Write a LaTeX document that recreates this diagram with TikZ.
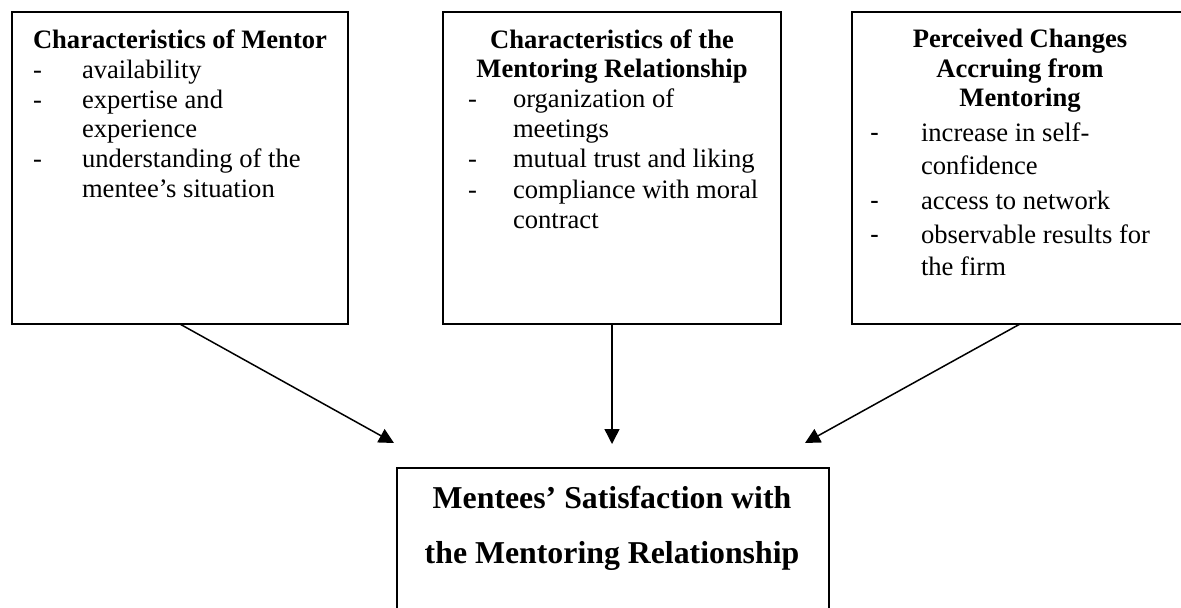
\documentclass[tikz,border=0pt]{standalone}
\usepackage{fontspec}
\setmainfont{Liberation Serif}
\newfontfamily\dashfont{Liberation Sans}
\usetikzlibrary{arrows.meta}
\tikzset{
  box/.style={draw, line width=0.85pt, inner sep=0pt, outer sep=0pt, anchor=north west},
  txt/.style={inner sep=0pt, outer sep=0pt, anchor=base west, font=\fontsize{13.3}{15}\selectfont},
  ttl/.style={inner sep=0pt, outer sep=0pt, anchor=base, font=\fontsize{13.3}{15}\selectfont\bfseries},
  ttlL/.style={inner sep=0pt, outer sep=0pt, anchor=base west, font=\fontsize{13.3}{15}\selectfont\bfseries},
  big/.style={inner sep=0pt, outer sep=0pt, anchor=base, font=\fontsize{15.9}{18}\selectfont\bfseries},
  arr/.style={line width=0.75pt, -{Triangle[length=7.5pt,width=7.5pt]}}
}
\begin{document}
\begin{tikzpicture}[x=0.5pt,y=-0.5pt]
\useasboundingbox (0,0) rectangle (1181,608);
\clip (0,0) rectangle (1181,608);
% boxes
\node[box, minimum width=168.15pt, minimum height=156.15pt] (L) at (11.7,11.7) {};
\node[box, minimum width=169pt, minimum height=156.15pt] (M) at (443,11.7) {};
\node[box, minimum width=168pt, minimum height=156.15pt] (R) at (852,11.7) {};
\node[box, minimum width=216.15pt, minimum height=90pt] (B) at (396.7,468) {};
% left box text
\node[ttlL] (l0) at (33,48.5) {Characteristics of Mentor};
\node[txt] (ld1) at (33,79) {-};
\node[txt] (l1) at (82,79) {availability};
\node[txt] (ld2) at (33,109) {-};
\node[txt] (l2) at (82,109) {expertise and};
\node[txt] (l3) at (82,138) {experience};
\node[txt] (ld3) at (33,168) {-};
\node[txt] (l4) at (82,168) {understanding of the};
\node[txt] (l5) at (82,198) {mentee’s situation};
% middle box text
\node[ttl] (m0) at (612,49) {Characteristics of the};
\node[ttl] (m0b) at (612,78) {Mentoring Relationship};
\node[txt] (md1) at (468,108) {-};
\node[txt] (m1) at (513,108) {organization of};
\node[txt] (m2) at (513,138) {meetings};
\node[txt] (md2) at (468,168) {-};
\node[txt] (m3) at (513,168) {mutual trust and liking};
\node[txt] (md3) at (468,199) {-};
\node[txt] (m4) at (513,199) {compliance with moral};
\node[txt] (m5) at (513,229) {contract};
% right box text
\node[ttl] (r0) at (1020,48) {Perceived Changes};
\node[ttl] (r0b) at (1020,78) {Accruing from};
\node[ttl] (r0c) at (1020,107) {Mentoring};
\node[txt, font=\fontsize{13.3}{15}\dashfont] (rd1) at (870,142) {-};
\node[txt] (r1) at (921,142) {increase in self-};
\node[txt] (r2) at (921,175) {confidence};
\node[txt, font=\fontsize{13.3}{15}\dashfont] (rd2) at (870,210) {-};
\node[txt] (r3) at (921,210) {access to network};
\node[txt, font=\fontsize{13.3}{15}\dashfont] (rd3) at (870,244) {-};
\node[txt] (r4) at (921,244) {observable results for};
\node[txt] (r5) at (921,276) {the firm};
% bottom box text
\node[big] (b1) at (612,508) {Mentees’ Satisfaction with};
\node[big] (b2) at (612,563) {the Mentoring Relationship};
% arrow tips
\coordinate (tL) at (394,443);
\coordinate (tM) at (612,444);
\coordinate (tR) at (805,443);
\draw[arr] (L.south) -- (tL);
\draw[arr] (M.south) -- (tM);
\draw[arr] (R.south) -- (tR);
\end{tikzpicture}
\end{document}
